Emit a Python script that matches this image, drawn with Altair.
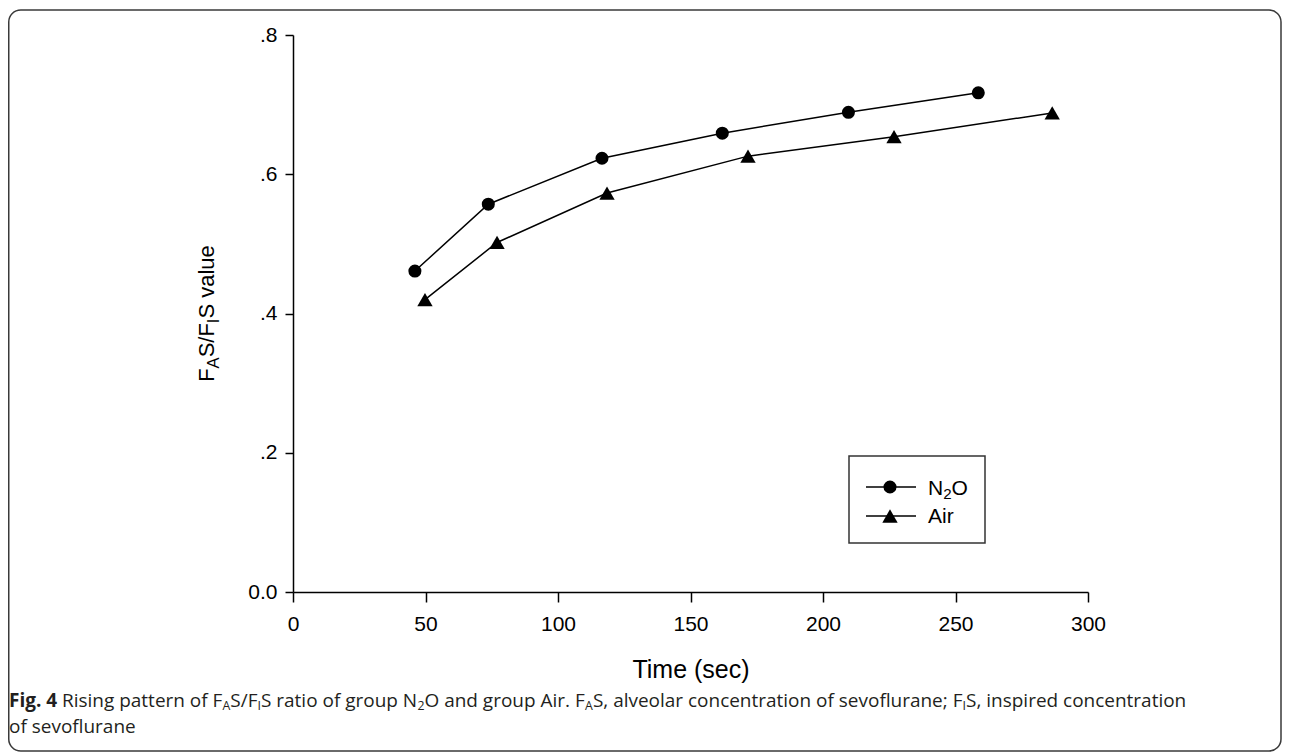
import os
import struct
import altair as alt
import pandas as pd

# ---------------- data ----------------
groups = ["N2O", "Air"]
time_n2o = [46.0, 73.7, 116.6, 162.0, 209.6, 258.6]
ratio_n2o = [0.461, 0.557, 0.623, 0.659, 0.689, 0.717]
time_air = [49.8, 77.0, 118.5, 171.7, 226.8, 286.5]
ratio_air = [0.420, 0.502, 0.573, 0.626, 0.654, 0.688]
x_tick_values = [0, 50, 100, 150, 200, 250, 300]
y_tick_values = [0.0, 0.2, 0.4, 0.6, 0.8]
x_title = "Time (sec)"
# rich-text pieces: role 'n' normal, 's' subscript, 'b' bold
y_title_parts = [("F", "n"), ("A", "s"), ("S/F", "n"), ("I", "s"), ("S value", "n")]
legend_parts = {
    "N2O": [("N", "n"), ("2", "s"), ("O", "n")],
    "Air": [("Air", "n")],
}
caption_line1 = [
    ("Fig. 4", "b"), (" Rising pattern of F", "n"), ("A", "s"), ("S/F", "n"), ("I", "s"),
    ("S ratio of group N", "n"), ("2", "s"), ("O and group Air. F", "n"), ("A", "s"),
    ("S, alveolar concentration of sevoflurane; F", "n"), ("I", "s"),
    ("S, inspired concentration", "n"),
]
caption_line2 = [("of sevoflurane", "n")]

# ---------------- font metrics (to place sub-scripted text pieces) ----------------
def _u16(d, o):
    return struct.unpack(">H", d[o:o + 2])[0]

def _u32(d, o):
    return struct.unpack(">I", d[o:o + 4])[0]

class Metrics:
    def __init__(self, path):
        d = open(path, "rb").read()
        base = _u32(d, 12) if d[:4] == b"ttcf" else 0
        n = _u16(d, base + 4)
        tables = {}
        for i in range(n):
            rec = base + 12 + 16 * i
            tables[d[rec:rec + 4].decode("latin1")] = _u32(d, rec + 8)
        self.upem = _u16(d, tables["head"] + 18)
        nhm = _u16(d, tables["hhea"] + 34)
        hm = tables["hmtx"]
        self.adv = [_u16(d, hm + 4 * i) for i in range(nhm)]
        cm = tables["cmap"]
        self.sub = None
        for i in range(_u16(d, cm + 2)):
            pid = _u16(d, cm + 4 + 8 * i)
            so = _u32(d, cm + 8 + 8 * i)
            if pid in (0, 3) and _u16(d, cm + so) == 4:
                self.sub = cm + so
                break
        if self.sub is None:
            raise ValueError("no cmap 4")
        self.d = d
        self.cache = {}

    def glyph(self, c):
        d, s = self.d, self.sub
        segx2 = _u16(d, s + 6)
        endc = s + 14
        startc = endc + segx2 + 2
        delta = startc + segx2
        rng = delta + segx2
        for i in range(segx2 // 2):
            if c <= _u16(d, endc + 2 * i):
                st = _u16(d, startc + 2 * i)
                if c < st:
                    return 0
                dl = _u16(d, delta + 2 * i)
                ro = _u16(d, rng + 2 * i)
                if ro == 0:
                    return (c + dl) & 0xFFFF
                g = _u16(d, rng + 2 * i + ro + 2 * (c - st))
                return (g + dl) & 0xFFFF if g else 0
        return 0

    def __call__(self, text):
        tot = 0.0
        for ch in text:
            if ch not in self.cache:
                g = self.glyph(ord(ch))
                self.cache[ch] = self.adv[min(g, len(self.adv) - 1)] / self.upem
            tot += self.cache[ch]
        return tot

FONT_DIRS = ["/usr/share/fonts", "/usr/local/share/fonts",
             os.path.expanduser("~/.fonts"), os.path.expanduser("~/.local/share/fonts")]

def find_font(pred):
    for root in FONT_DIRS:
        if not os.path.isdir(root):
            continue
        for dp, _, fn in os.walk(root):
            for f in sorted(fn):
                if pred(f.lower()):
                    return os.path.join(dp, f)
    return None

def load(preds, fallback_em):
    for p in preds:
        try:
            path = find_font(p)
            if path:
                return Metrics(path)
        except Exception:
            pass
    return lambda t: sum(0.28 if c == " " else fallback_em for c in t)

m_lib = load([lambda f: f == "liberationsans-regular.ttf"], 0.55)
m_os = load([lambda f: f == "opensans-regular.ttf",
             lambda f: f.startswith("opensans") and "italic" not in f and ("wght" in f or "variable" in f)], 0.53)
_m_osb = load([lambda f: f == "opensans-bold.ttf"], None) if find_font(lambda f: f == "opensans-bold.ttf") else None
m_osb = _m_osb if _m_osb is not None else (lambda t: 1.07 * m_os(t))

def layout(parts, fs, sub_scale, sub_shift, m_norm, m_bold):
    cur, out = 0.0, []
    for text, role in parts:
        size = fs * sub_scale if role == "s" else fs
        m = m_bold if role == "b" else m_norm
        lead = len(text) - len(text.lstrip(" "))
        out.append(dict(t=text.strip(" "), off=cur + m(" " * lead) * size,
                        shift=sub_shift if role == "s" else 0.0, fs=size, bold=(role == "b")))
        cur += m(text) * size
    return out, cur

# ---------------- geometry ----------------
FONT = "Liberation Sans"
CAP_FONT = "Open Sans"
INK = "#000000"
PAD_L, PAD_T = 285, 27
W, H = 795, 557
TOTAL_W, TOTAL_H = 1274, 745
PAD_R = TOTAL_W - PAD_L - W
PAD_B = TOTAL_H - PAD_T - H
OX, OY = 8 + PAD_L, 8 + PAD_T

def px(x):
    return x - OX

def py(y):
    return y - OY

# ---------------- chart data ----------------
df = pd.DataFrame({
    "group": [groups[0]] * len(time_n2o) + [groups[1]] * len(time_air),
    "time": time_n2o + time_air,
    "ratio": ratio_n2o + ratio_air,
})
shape_scale = alt.Scale(domain=groups, range=["circle", "triangle-up"])
size_scale = alt.Scale(domain=groups, range=[170, 235])

x_enc = alt.X(
    "time:Q",
    scale=alt.Scale(domain=[0, 300], nice=False, zero=False),
    axis=alt.Axis(values=x_tick_values, title=x_title, format="d", labelFlush=False,
                  labelOverlap=False, tickSize=10, labelPadding=11,
                  titleX=W / 2, titleY=85, titleAlign="center", titleBaseline="alphabetic",
                  titleFontSize=25, titleFont=FONT, titleFontWeight="normal", titleColor=INK),
)
y_enc = alt.Y(
    "ratio:Q",
    scale=alt.Scale(domain=[0, 0.8], nice=False, zero=True),
    axis=alt.Axis(values=y_tick_values, title=None, labelFlush=False, labelOverlap=False,
                  labelExpr="datum.value == 0 ? '0.0' : replace(format(datum.value, '.1f'), '0.', '.')",
                  tickSize=8, labelPadding=8),
)

lines = alt.Chart(df).mark_line(color=INK, strokeWidth=1.5).encode(x=x_enc, y=y_enc, detail="group:N")
points = alt.Chart(df).mark_point(filled=True, opacity=1, color=INK).encode(
    x="time:Q", y="ratio:Q",
    shape=alt.Shape("group:N", scale=shape_scale, legend=None),
    size=alt.Size("group:N", scale=size_scale, legend=None),
)

one = pd.DataFrame({"a": [0]})
border = alt.Chart(one).mark_rect(fill="white", fillOpacity=0, stroke="#3a3a3a",
                                  strokeWidth=1.5, cornerRadius=12).encode(
    x=alt.value(px(8.75)), x2=alt.value(px(1281)), y=alt.value(py(10)), y2=alt.value(py(751)))

# legend (boxed key)
legend_df = pd.DataFrame({"group": groups, "ly": [py(487), py(516)]})
legend_box = alt.Chart(one).mark_rect(fill="white", stroke="#333333", strokeWidth=1.5).encode(
    x=alt.value(px(849)), x2=alt.value(px(985)), y=alt.value(py(456)), y2=alt.value(py(543)))
legend_rules = alt.Chart(legend_df).mark_rule(color=INK, strokeWidth=1.5).encode(
    x=alt.value(px(866)), x2=alt.value(px(916)), y=alt.Y("ly:Q", scale=None, axis=None))
legend_syms = alt.Chart(legend_df).mark_point(filled=True, opacity=1, color=INK).encode(
    x=alt.value(px(890)), y=alt.Y("ly:Q", scale=None, axis=None),
    shape=alt.Shape("group:N", scale=shape_scale, legend=None),
    size=alt.Size("group:N", scale=size_scale, legend=None))

# text pieces
rows_lib_h, rows_lib_v, rows_cap, rows_cap_b = [], [], [], []

# y title, rotated
segs, L = layout(y_title_parts, 22, 0.75, 5, m_lib, m_lib)
y0 = 313.5 + L / 2
for s in segs:
    rows_lib_v.append(dict(t=s["t"], x=px(213.5 + s["shift"]), y=py(y0 - s["off"]), fs=s["fs"]))

# legend labels
for g, base_y in zip(groups, [495, 522.5]):
    segs, _ = layout(legend_parts[g], 21, 0.72, 4, m_lib, m_lib)
    for s in segs:
        rows_lib_h.append(dict(t=s["t"], x=px(928 + s["off"]), y=py(base_y + s["shift"]), fs=s["fs"]))

# caption
_, unit = layout(caption_line1, 1.0, 0.65, 0, m_os, m_osb)
cap_fs = max(15.0, min(19.0, (1186 - 9) / unit))
for parts, base_y in [(caption_line1, 707), (caption_line2, 733)]:
    segs, _ = layout(parts, cap_fs, 0.65, 0.17 * cap_fs, m_os, m_osb)
    for s in segs:
        row = dict(t=s["t"], x=px(9 + s["off"]), y=py(base_y + s["shift"]), fs=s["fs"])
        (rows_cap_b if s["bold"] else rows_cap).append(row)

def text_layer(rows, font, weight="normal", angle=0, color=INK):
    return alt.Chart(pd.DataFrame(rows)).mark_text(
        align="left", baseline="alphabetic", font=font, fontWeight=weight, angle=angle, color=color
    ).encode(
        x=alt.X("x:Q", scale=None, axis=None),
        y=alt.Y("y:Q", scale=None, axis=None),
        text="t:N",
        size=alt.Size("fs:Q", scale=None, legend=None),
    )

ytitle_text = text_layer(rows_lib_v, FONT, angle=270)
legend_text = text_layer(rows_lib_h, FONT)
cap_text = text_layer(rows_cap, CAP_FONT, color="#231f20")
cap_bold = text_layer(rows_cap_b, CAP_FONT, weight="bold", color="#231f20")

chart = alt.layer(
    border, lines, points, legend_box, legend_rules, legend_syms,
    ytitle_text, legend_text, cap_text, cap_bold,
).properties(
    width=W, height=H,
    padding={"left": PAD_L, "top": PAD_T, "right": PAD_R, "bottom": PAD_B},
    autosize=alt.AutoSizeParams(type="none"),
    background="white",
).configure_view(stroke=None).configure_axis(
    domainColor=INK, domainWidth=1.5, tickColor=INK, tickWidth=1.5,
    labelColor=INK, labelFont=FONT, labelFontSize=21, grid=False,
)

chart.save("out.html", embed_options={"renderer": "svg", "actions": False})
